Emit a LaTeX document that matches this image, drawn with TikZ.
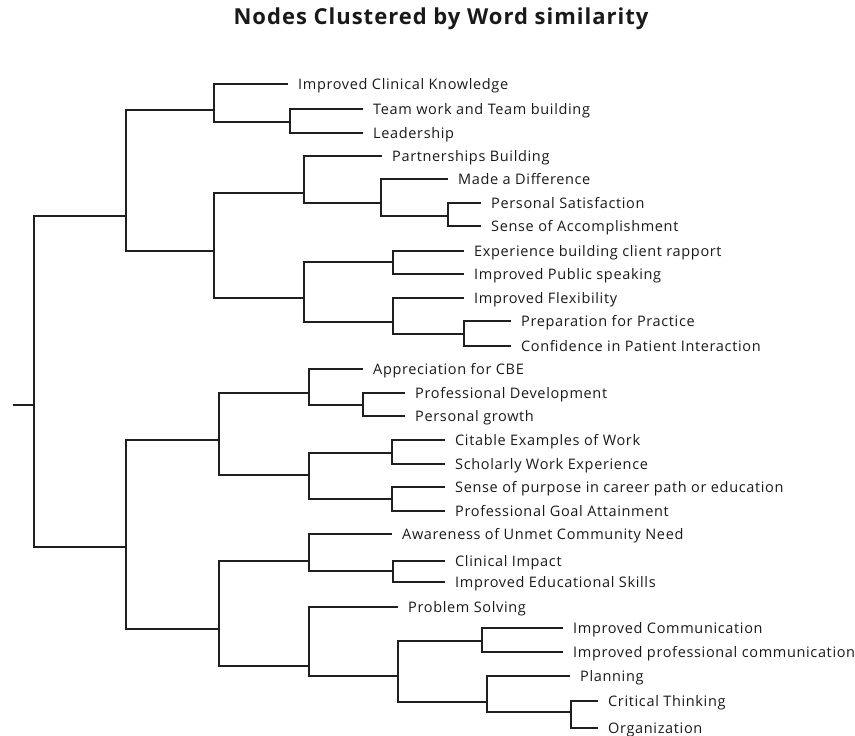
\documentclass[tikz,border=0pt]{standalone}
\usepackage{fontspec}
\setmainfont{Open Sans}
\newfontfamily\labfont[LetterSpace=4.5]{Open Sans}
\newfontfamily\ttlfont[LetterSpace=4.5]{Open Sans}
\begin{document}
\begin{tikzpicture}[x=1pt,y=-1pt,
  br/.style={line width=2.2pt, draw=black!88},
  lab/.style={anchor=west, inner xsep=10pt, inner ysep=0pt, text height=10.3pt, text depth=0pt,
    font=\labfont\fontsize{14.5}{16}\selectfont, text=black!90},
]
\useasboundingbox (0,0) rectangle (855,736);
\node[font=\ttlfont\bfseries\fontsize{22}{26}\selectfont, text=black!90] (title) at (441,19) {Nodes Clustered by Word similarity};
% internal junctions
\coordinate (stub) at (13,405);
\coordinate (R) at (34,405);
\coordinate (A) at (126,216);
\coordinate (B) at (126,547);
\coordinate (A1) at (214,110);
\coordinate (TL) at (290,122);
\coordinate (A2) at (214,251);
\coordinate (P) at (304,193);
\coordinate (M) at (381,203);
\coordinate (S) at (448,216);
\coordinate (Q) at (304,298);
\coordinate (E) at (393,262);
\coordinate (F) at (393,322);
\coordinate (G) at (464,334);
\coordinate (B1) at (219,440);
\coordinate (C) at (309,393);
\coordinate (H) at (363,405);
\coordinate (D) at (309,475);
\coordinate (I) at (392,453);
\coordinate (J) at (392,499);
\coordinate (B2) at (219,629);
\coordinate (K) at (309,561);
\coordinate (N) at (393,571);
\coordinate (L) at (309,666);
\coordinate (O) at (398,676);
\coordinate (U) at (482,641);
\coordinate (V) at (487,702);
\coordinate (W) at (571,712);
% leaves
\node[lab] (l1) at (288,84) {Improved Clinical Knowledge};
\node[lab] (l2) at (363,109) {Team work and Team building};
\node[lab] (l3) at (363,133) {Leadership};
\node[lab] (l4) at (382,156) {Partnerships Building};
\node[lab] (l5) at (448,179) {Made a Difference};
\node[lab] (l6) at (481,203) {Personal Satisfaction};
\node[lab] (l7) at (481,226) {Sense of Accomplishment};
\node[lab] (l8) at (464,251) {Experience building client rapport};
\node[lab] (l9) at (464,274) {Improved Public speaking};
\node[lab] (l10) at (464,298) {Improved Flexibility};
\node[lab] (l11) at (511,321) {Preparation for Practice};
\node[lab] (l12) at (511,346) {Confidence in Patient Interaction};
\node[lab] (l13) at (363,369) {Appreciation for CBE};
\node[lab] (l14) at (405,393) {Professional Development};
\node[lab] (l15) at (405,416) {Personal growth};
\node[lab] (l16) at (445,440) {Citable Examples of Work};
\node[lab] (l17) at (445,464) {Scholarly Work Experience};
\node[lab] (l18) at (445,487) {Sense of purpose in career path or education};
\node[lab] (l19) at (445,511) {Professional Goal Attainment};
\node[lab] (l20) at (392,534) {Awareness of Unmet Community Need};
\node[lab] (l21) at (445,561) {Clinical Impact};
\node[lab] (l22) at (445,582) {Improved Educational Skills};
\node[lab] (l23) at (398,607) {Problem Solving};
\node[lab] (l24) at (563,628) {Improved Communication};
\node[lab] (l25) at (563,652) {Improved professional communication};
\node[lab] (l26) at (570,676) {Planning};
\node[lab] (l27) at (598,701) {Critical Thinking};
\node[lab] (l28) at (598,728) {Organization};
% connectors
\draw[br] (stub) -- (R);
\foreach \p/\c in {R/A,R/B,A/A1,A/A2,A1/TL,A2/P,A2/Q,P/M,M/S,Q/E,Q/F,F/G,
  B/B1,B/B2,B1/C,B1/D,C/H,D/I,D/J,B2/K,B2/L,K/N,L/O,O/U,O/V,V/W}
  \draw[br] (\p) |- (\c);
\foreach \p/\c in {A1/l1,TL/l2,TL/l3,P/l4,M/l5,S/l6,S/l7,E/l8,E/l9,F/l10,G/l11,G/l12,
  C/l13,H/l14,H/l15,I/l16,I/l17,J/l18,J/l19,K/l20,N/l21,N/l22,L/l23,U/l24,U/l25,V/l26,W/l27,W/l28}
  \draw[br] (\p) |- (\c.west);
\end{tikzpicture}
\end{document}
